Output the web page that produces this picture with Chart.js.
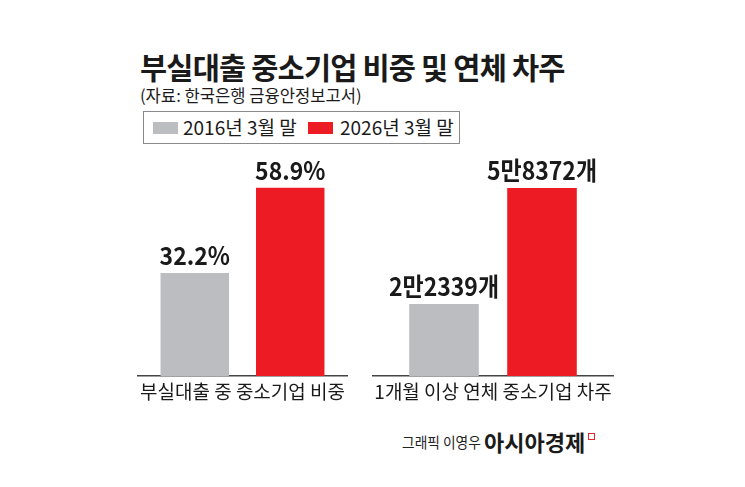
<!DOCTYPE html>
<html>
<head>
<meta charset="utf-8">
<script src="https://cdn.jsdelivr.net/npm/chart.js@4"></script>
<style>
  body { margin: 0; width: 745px; height: 487px; background: #fff; position: relative; overflow: hidden;
         font-family: "Noto Sans CJK KR", "Noto Sans", sans-serif; color: #1a1a1a; }
  .abs { position: absolute; white-space: nowrap; line-height: 1; }
  #title { left: 140px; top: 52px; font-size: 29.5px; font-weight: 700; letter-spacing: -0.8px; }
  #source { left: 140px; top: 87px; font-size: 16.6px; }
  #legend { left: 143px; top: 111px; width: 317px; height: 33px; box-sizing: border-box; border: 1px solid #8a8a8a; }
  .sw { position: absolute; top: 10px; width: 25px; height: 12px; }
  .lt { position: absolute; top: 5px; font-size: 19px; line-height: 1; white-space: nowrap; }
  .box { position: absolute; }
  #credit1 { left: 402px; top: 434px; font-size: 15px; transform: scaleX(0.915); transform-origin: left top; color: #222; }
  #credit2 { left: 484px; top: 430px; font-size: 22px; font-weight: 700; }
  #mark { left: 588px; top: 433px; width: 5px; height: 5px; border: 1.5px solid #e3262d; }
</style>
</head>
<body>
<div id="title" class="abs">부실대출 중소기업 비중 및 연체 차주</div>
<div id="source" class="abs">(자료: 한국은행 금융안정보고서)</div>
<div id="legend" class="abs"></div>
<div class="box" style="left:137px; top:150px; width:211px; height:260px;"><canvas id="c1"></canvas></div>
<div class="box" style="left:372px; top:150px; width:242px; height:260px;"><canvas id="c2"></canvas></div>
<div id="credit1" class="abs">그래픽 이영우</div>
<div id="credit2" class="abs">아시아경제</div>
<div id="mark" class="abs"></div>
<script>
var seriesLabels = ['2016년 3월 말', '2026년 3월 말'];
var seriesColors = ['#bbbdc0', '#ed1c24'];
var shareCategory = ['부실대출 중 중소기업 비중'];
var share2016 = [32.2];
var share2026 = [58.9];
var debtorCategory = ['1개월 이상 연체 중소기업 차주'];
var debtors2016 = [22339];
var debtors2026 = [58372];

// legend
var legend = document.getElementById('legend');
var swX = [9, 164], txX = [39, 196];
seriesLabels.forEach(function (lab, i) {
  var s = document.createElement('div');
  s.className = 'sw';
  s.style.left = swX[i] + 'px';
  s.style.background = seriesColors[i];
  legend.appendChild(s);
  var t = document.createElement('div');
  t.className = 'lt';
  t.style.left = txX[i] + 'px';
  t.textContent = lab;
  legend.appendChild(t);
});

// value labels above bars + category label under the axis
var barText = {
  id: 'barText',
  afterDraw: function (chart, args, opts) {
    var ctx = chart.ctx;
    chart.data.datasets.forEach(function (ds, i) {
      chart.getDatasetMeta(i).data.forEach(function (bar, j) {
        ctx.save();
        ctx.font = '700 25px "Noto Sans CJK KR"';
        ctx.fillStyle = '#1a1a1a';
        ctx.textAlign = 'center';
        ctx.textBaseline = 'alphabetic';
        ctx.translate(bar.x, bar.y - 8);
        ctx.scale(0.92, 1);
        ctx.fillText(opts.fmt(ds.data[j]), 0, 0);
        ctx.restore();
      });
    });
    var xs = chart.scales.x;
    ctx.save();
    ctx.font = '19px "Noto Sans CJK KR"';
    ctx.fillStyle = '#1a1a1a';
    ctx.textAlign = 'center';
    ctx.textBaseline = 'top';
    chart.data.labels.forEach(function (lab, k) {
      ctx.fillText(lab, xs.getPixelForTick(k), chart.chartArea.bottom + 6);
    });
    ctx.restore();
  }
};

function makeChart(id, cats, d1, d2, max, catPct, barPct, fmt) {
  return new Chart(document.getElementById(id), {
    type: 'bar',
    data: {
      labels: cats,
      datasets: [
        { label: seriesLabels[0], data: d1, backgroundColor: seriesColors[0] },
        { label: seriesLabels[1], data: d2, backgroundColor: seriesColors[1] }
      ]
    },
    options: {
      responsive: true,
      maintainAspectRatio: false,
      animation: false,
      categoryPercentage: catPct,
      barPercentage: barPct,
      layout: { padding: { left: 0, right: 0, top: 0, bottom: 34 } },
      plugins: { legend: { display: false }, tooltip: { enabled: false }, barText: { fmt: fmt } },
      scales: {
        x: {
          grid: { display: false, drawTicks: false },
          border: { display: true, color: '#444', width: 1.5 },
          ticks: { display: false }
        },
        y: { display: false, min: 0, max: max }
      }
    },
    plugins: [barText]
  });
}

makeChart('c1', shareCategory, share2016, share2026, 70.7, 0.905, 0.717, function (v) { return v.toFixed(1) + '%'; });
makeChart('c2', debtorCategory, debtors2016, debtors2026, 70140, 0.81, 0.71, function (v) {
  return Math.floor(v / 10000) + '만' + (v % 10000) + '개';
});
</script>
</body>
</html>
